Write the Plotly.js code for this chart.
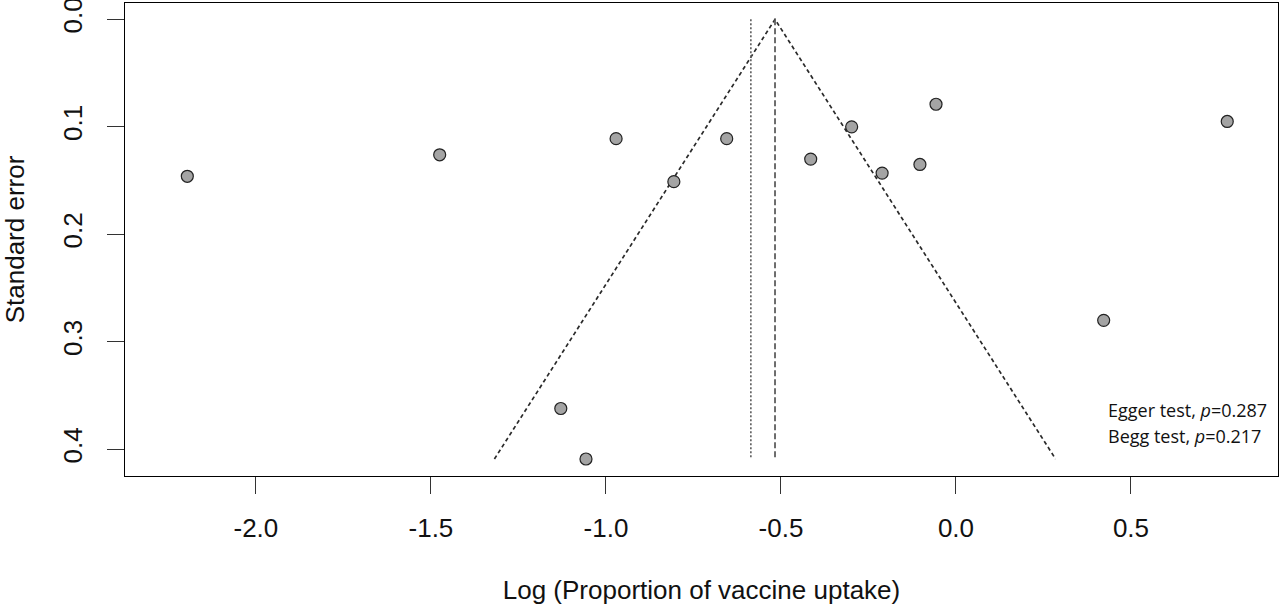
<!DOCTYPE html>
<html>
<head>
<meta charset="utf-8">
<script src="https://cdn.plot.ly/plotly-3.0.1.min.js"></script>
<style>
  html, body { margin: 0; padding: 0; background: #fff; }
  #funnel-plot { width: 1280px; height: 610px; }
</style>
</head>
<body>
<div id="funnel-plot"></div>
<script>
// study estimates
var logProp = [-2.196, -1.475, -0.971, -0.806, -0.655, -0.415, -0.298, -0.211, -0.103, -0.057, 0.775, 0.422, -1.129, -1.057];
var stdErr  = [0.146, 0.126, 0.111, 0.151, 0.111, 0.130, 0.100, 0.143, 0.135, 0.079, 0.095, 0.280, 0.362, 0.409];

var pooledRandom = -0.517;   // dashed vertical line, apex of the funnel
var pooledFixed  = -0.586;   // dotted vertical line

var xTickVals   = [-2.0, -1.5, -1.0, -0.5, 0.0, 0.5];
var xTickLabels = ['-2.0', '-1.5', '-1.0', '-0.5', '0.0', '0.5'];
var yTickVals   = [0.0, 0.1, 0.2, 0.3, 0.4];
var yTickLabels = ['0.0', '0.1', '0.2', '0.3', '0.4'];

var eggerText = 'Egger test, <i>p</i>=0.287';
var beggText  = 'Begg test, <i>p</i>=0.217';

function init_funnel_plot(){
    var seMax = Math.max.apply(null, stdErr);

    var funnel = {
      x: [pooledRandom - 1.96 * seMax, pooledRandom, pooledRandom + 1.96 * seMax],
      y: [seMax, 0, seMax],
      type: 'scatter',
      mode: 'lines',
      line: {color: '#2a2a2a', width: 1.7, dash: '4px,3px'},
      hoverinfo: 'skip'
    };

    var randomLine = {
      x: [pooledRandom, pooledRandom],
      y: [0, seMax],
      type: 'scatter',
      mode: 'lines',
      line: {color: '#555', width: 1.7, dash: '6px,3px'},
      hoverinfo: 'skip'
    };

    var fixedLine = {
      x: [pooledFixed, pooledFixed],
      y: [0, seMax],
      type: 'scatter',
      mode: 'lines',
      line: {color: '#666', width: 1.7, dash: '2px,2px'},
      hoverinfo: 'skip'
    };

    var studies = {
      x: logProp,
      y: stdErr,
      type: 'scatter',
      mode: 'markers',
      marker: {size: 12, color: '#a4a4a4', line: {color: '#222', width: 1.2}},
      name: 'studies'
    };

    var data = [funnel, randomLine, fixedLine, studies];

    var axisFont = {family: 'Liberation Sans, Arial, sans-serif', size: 26, color: '#111'};

    var layout = {
        width: 1280,
        height: 610,
        showlegend: false,
        paper_bgcolor: '#fff',
        plot_bgcolor: '#fff',
        margin: {l: 125, r: 2, t: 3, b: 134},
        xaxis: {
            range: [-2.374, 0.92],
            tickmode: 'array',
            tickvals: xTickVals,
            ticktext: xTickLabels,
            ticks: 'outside',
            ticklen: 17,
            tickwidth: 1.2,
            tickcolor: '#333',
            ticklabelstandoff: 12,
            tickfont: axisFont,
            showgrid: false,
            zeroline: false,
            showline: true,
            mirror: true,
            linecolor: '#000',
            linewidth: 1.4,
            title: {text: 'Log (Proportion of vaccine uptake)', font: axisFont, standoff: 38}
        },
        yaxis: {
            range: [0.4248, -0.0152],
            tickmode: 'array',
            tickvals: yTickVals,
            ticktext: yTickLabels,
            tickangle: -90,
            ticks: 'outside',
            ticklen: 17,
            tickwidth: 1.2,
            tickcolor: '#333',
            ticklabelstandoff: 14,
            ticklabeloverflow: 'allow',
            tickfont: axisFont,
            showgrid: false,
            zeroline: false,
            showline: true,
            mirror: true,
            linecolor: '#000',
            linewidth: 1.4,
            title: {text: 'Standard error', font: axisFont, standoff: 34}
        },
        annotations: [
            {x: 0.4286, y: 0.3634, xref: 'x', yref: 'y', xanchor: 'left', yanchor: 'middle',
             text: eggerText, showarrow: false,
             font: {family: 'Open Sans, Noto Sans, sans-serif', size: 18, color: '#111'}},
            {x: 0.4286, y: 0.3873, xref: 'x', yref: 'y', xanchor: 'left', yanchor: 'middle',
             text: beggText, showarrow: false,
             font: {family: 'Open Sans, Noto Sans, sans-serif', size: 18, color: '#111'}}
        ]
    };

    var additional_param = {
        displayModeBar: false,          // static picture, no toolbar
        displaylogo: false
    };

    Plotly.newPlot('funnel-plot', data, layout, additional_param);
};

init_funnel_plot();
</script>
</body>
</html>
